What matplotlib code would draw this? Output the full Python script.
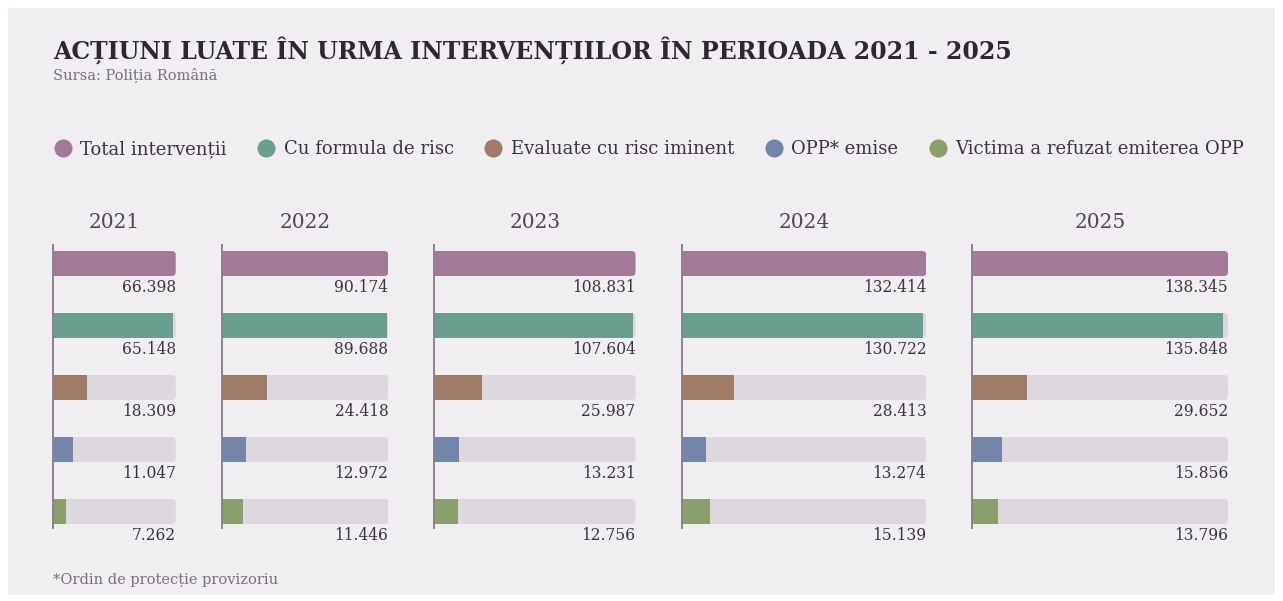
import matplotlib.pyplot as plt
from matplotlib.patches import Rectangle, FancyBboxPatch
from matplotlib.lines import Line2D

years = ['2021', '2022', '2023', '2024', '2025']
categories = ['Total intervenții', 'Cu formula de risc', 'Evaluate cu risc iminent',
              'OPP* emise', 'Victima a refuzat emiterea OPP']
total = [66398, 90174, 108831, 132414, 138345]
formula_risc = [65148, 89688, 107604, 130722, 135848]
risc_iminent = [18309, 24418, 25987, 28413, 29652]
opp_emise = [11047, 12972, 13231, 13274, 15856]
opp_refuzat = [7262, 11446, 12756, 15139, 13796]

colors = ['#a07a97', '#6a9e8e', '#a07c68', '#7386a9', '#8a9f6c']
track = '#dcd8dd'
bg = '#f0eef1'
txt = '#3b3440'

series = [total, formula_risc, risc_iminent, opp_emise, opp_refuzat]

def fmt(v):
    return f'{v:,}'.replace(',', '.')

W, H = 1283, 601
fig = plt.figure(figsize=(W / 100, H / 100), dpi=100)
fig.patch.set_facecolor('white')
fig.patches.append(Rectangle((8 / W, 1 - 595 / H), (1275 - 8) / W, (595 - 8) / H,
                             transform=fig.transFigure, facecolor=bg, edgecolor='none', zorder=-5))

plt.rcParams['font.family'] = ['DejaVu Serif']

fig.text(53 / W, 1 - 50 / H, 'ACȚIUNI LUATE ÎN URMA INTERVENȚIILOR ÎN PERIOADA 2021 - 2025',
         fontsize=17, fontweight='bold', color='#2e2733', va='center', ha='left')
fig.text(53 / W, 1 - 75 / H, 'Sursa: Poliția Română', fontsize=10.5, color='#78717c',
         va='center', ha='left')
fig.text(53 / W, 1 - 580 / H, '*Ordin de protecție provizoriu', fontsize=10.5,
         color='#78717c', va='center', ha='left')

handles = [Line2D([], [], marker='o', linestyle='none', markersize=13,
                  markerfacecolor=c, markeredgecolor='none') for c in colors]
fig.legend(handles, categories, loc='center left', bbox_to_anchor=(36 / W, 1 - 149 / H),
           ncol=5, frameon=False, fontsize=13, handletextpad=0.35, columnspacing=1.6,
           labelcolor=txt, handlelength=1.2)

# panel widths proportional to total interventions
left0, gap, span = 53, 46, 1228 - 53
px_per_unit = (span - gap * (len(years) - 1)) / sum(total)
top_px, bot_px = 245, 550
row_px = 62
first_px = 263.5
bar_h = 25 / row_px
radius_px = 4

x = left0
for i, yr in enumerate(years):
    w = total[i] * px_per_unit
    ax = fig.add_axes([x / W, 1 - bot_px / H, w / W, (bot_px - top_px) / H])
    ax.set_facecolor('none')
    ax.set_xlim(0, total[i])
    ax.set_ylim((bot_px - first_px) / row_px, (top_px - first_px) / row_px)
    r = radius_px / px_per_unit
    aspect = (1 / row_px) * px_per_unit
    for j, s in enumerate(series):
        # rounded background track (left rounding hidden outside the axes)
        ax.add_patch(FancyBboxPatch((-r, j - bar_h / 2), total[i] + r, bar_h,
                                    boxstyle=f'round,pad=0,rounding_size={r}',
                                    mutation_aspect=aspect,
                                    facecolor=track if j else colors[j],
                                    edgecolor='none', zorder=1))
        if j:
            ax.barh(j, s[i], height=bar_h, color=colors[j], zorder=2)
        ax.text(total[i], j + 0.38, fmt(s[i]), ha='right', va='center',
                fontsize=11.2, color=txt)
    ymin_frac = (bot_px - 528) / (bot_px - top_px)
    ax.axvline(0, ymin=ymin_frac, ymax=1, color='#8c8290', lw=1.4, zorder=3, clip_on=False)
    ax.axis('off')
    fig.text((x + w / 2) / W, 1 - 223 / H, yr, ha='center', va='center',
             fontsize=14.5, color='#4f4555')
    x += w + gap

fig.savefig('out.png', dpi=100, facecolor=fig.get_facecolor())
